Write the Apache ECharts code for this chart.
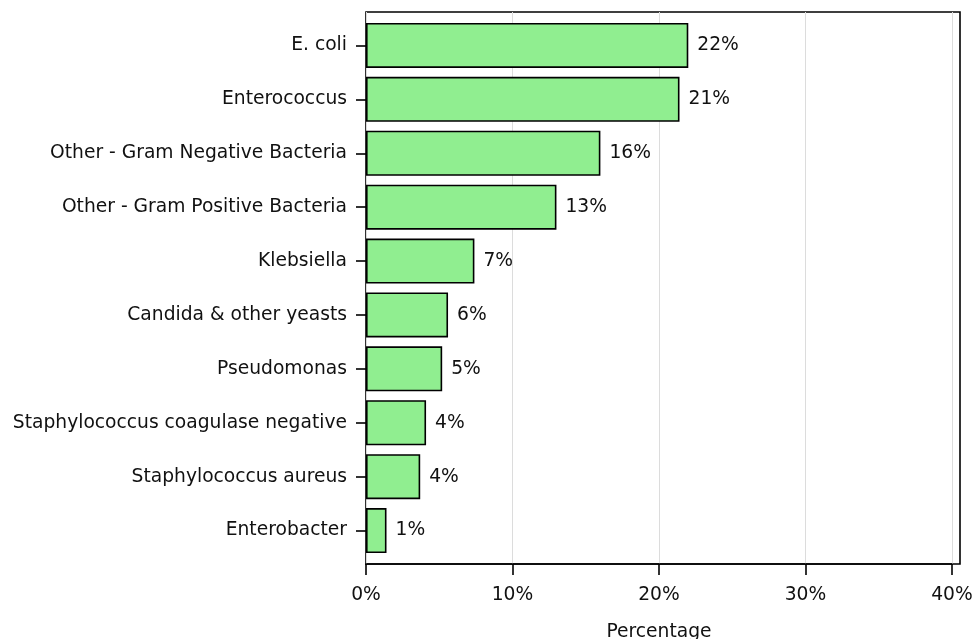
<!DOCTYPE html>
<html>
<head>
<meta charset="utf-8">
<script src="https://cdn.jsdelivr.net/npm/echarts@6/dist/echarts.min.js"></script>
<style>html,body{margin:0;padding:0;background:#fff}#c{width:974px;height:639px}</style>
</head>
<body>
<div id="c"></div>
<script>
var categories = ["E. coli","Enterococcus","Other - Gram Negative Bacteria","Other - Gram Positive Bacteria","Klebsiella","Candida & other yeasts","Pseudomonas","Staphylococcus coagulase negative","Staphylococcus aureus","Enterobacter"];
var percentages = [22.0, 21.4, 16.0, 13.0, 7.4, 5.6, 5.2, 4.1, 3.7, 1.4];
var xTickMax = 40;
var xTickStep = 10;
var xAxisTitle = "Percentage";

var FONT = "DejaVu Sans";
var FS = 18.7;
var TXT = "#111";

var chart = echarts.init(document.getElementById('c'), null, {renderer: 'canvas'});
chart.setOption({
  animation: false,
  backgroundColor: '#fff',
  textStyle: {fontFamily: FONT},
  grid: [
    {left: 366, right: 14, top: 12, bottom: 75, show: true, borderColor: '#000', borderWidth: 1.6, backgroundColor: 'transparent', containLabel: false, outerBoundsMode: 'none'},
    {left: 366, width: 586, top: 12, bottom: 75, containLabel: false, outerBoundsMode: 'none'},
    {left: 366, width: 586, top: 18.5, height: 539, containLabel: false, outerBoundsMode: 'none'}
  ],
  xAxis: [
    {gridIndex: 0, type: 'value', min: 0, max: 1, show: false},
    {gridIndex: 1, type: 'value', min: 0, max: xTickMax, interval: xTickStep,
      axisLine: {show: true, lineStyle: {color: '#000', width: 1.6}},
      axisTick: {show: true, length: 11, lineStyle: {color: '#000', width: 1.6}},
      axisLabel: {formatter: '{value}%', color: TXT, fontFamily: FONT, fontSize: FS, margin: 22},
      splitLine: {show: true, lineStyle: {color: '#dcdcdc', width: 1}},
      name: xAxisTitle, nameLocation: 'middle', nameGap: 59,
      nameTextStyle: {color: TXT, fontFamily: FONT, fontSize: FS}
    },
    {gridIndex: 2, type: 'value', min: 0, max: xTickMax, show: false}
  ],
  yAxis: [
    {gridIndex: 0, type: 'value', show: false},
    {gridIndex: 1, type: 'value', show: false},
    {gridIndex: 2, type: 'category', data: categories, inverse: true,
      axisLine: {show: false},
      axisTick: {show: true, alignWithLabel: true, length: 10, lineStyle: {color: '#000', width: 1.6}},
      axisLabel: {color: TXT, fontFamily: FONT, fontSize: FS, margin: 19},
      splitLine: {show: false}
    }
  ],
  series: [{
    type: 'bar',
    xAxisIndex: 2, yAxisIndex: 2,
    data: percentages,
    barCategoryGap: '16.5%',
    itemStyle: {color: '#90ee90', borderColor: '#000', borderWidth: 1.6},
    label: {show: true, position: 'right', distance: 9, color: TXT, fontFamily: FONT, fontSize: FS,
      formatter: function (p) { return Math.round(p.value) + '%'; }}
  }]
});
</script>
</body>
</html>
